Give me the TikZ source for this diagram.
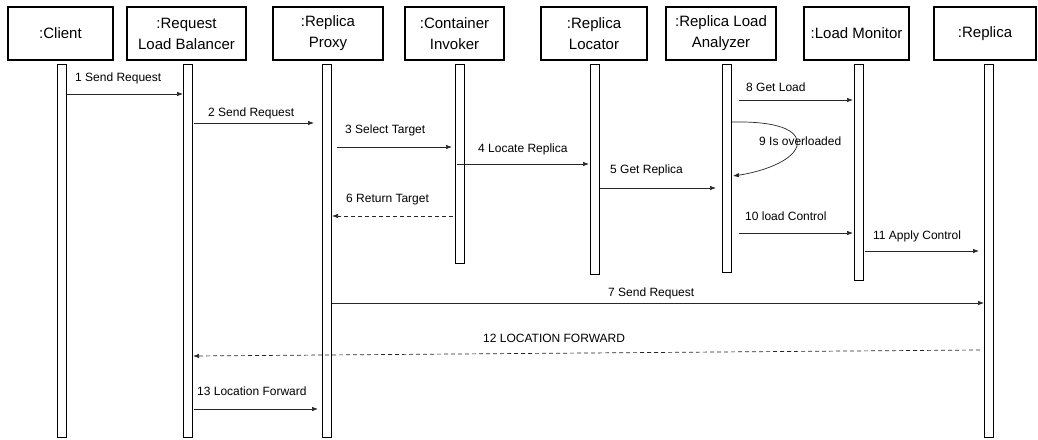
\documentclass[tikz,border=0pt]{standalone}
\usepackage{fontspec}
\setmainfont{Liberation Sans}
\usetikzlibrary{arrows.meta}
\begin{document}
\begin{tikzpicture}[x=1pt,y=-1pt,
 head/.style={draw, line width=1.6pt, minimum height=53pt, inner sep=0pt, align=center, font=\fontsize{15}{21}\selectfont},
 bar/.style={draw, line width=1.3pt, minimum width=9pt, inner sep=0pt, fill=white, anchor=north},
 msg/.style={line width=0.7pt, draw=black!85, -{Latex[length=6pt,width=4.5pt]}},
 ret/.style={msg, dash pattern=on 4pt off 3pt},
 lbl/.style={anchor=west, inner sep=0pt, font=\fontsize{12}{14}\selectfont, text height=9pt, text depth=3pt}]
\useasboundingbox (0,0) rectangle (1038,439);
% headers
\node[head, minimum width=105pt] (h1) at (60.5,33.5) {:Client};
\node[head, minimum width=119pt] (h2) at (186.5,33.5) {:Request\\Load Balancer};
\node[head, minimum width=110pt] (h3) at (328,33.5) {:Replica\\Proxy};
\node[head, minimum width=99pt] (h4) at (454.5,33.5) {:Container\\Invoker};
\node[head, minimum width=106pt] (h5) at (594,33.5) {:Replica\\Locator};
\node[head, minimum width=110pt] (h6) at (721,33.5) {:Replica Load\\Analyzer};
\node[head, minimum width=105pt] (h7) at (856.5,33.5) {:Load Monitor};
\node[head, minimum width=102pt] (h8) at (985,33.5) {:Replica};
% activation bars
\node[bar, minimum height=373pt] (b1) at (62,64) {};
\node[bar, minimum height=373pt] (b2) at (188,64) {};
\node[bar, minimum height=373pt] (b3) at (327,64) {};
\node[bar, minimum height=199pt] (b4) at (460,64) {};
\node[bar, minimum height=210pt] (b5) at (595,64) {};
\node[bar, minimum height=208pt] (b6) at (727,64) {};
\node[bar, minimum height=216pt] (b7) at (859,64) {};
\node[bar, minimum height=373pt] (b8) at (989,64) {};
% message end points
\coordinate (m1a) at (67,94);   \coordinate (m1b) at (183,94);
\coordinate (m2a) at (194,123); \coordinate (m2b) at (314,123);
\coordinate (m3a) at (337,147); \coordinate (m3b) at (452,147);
\coordinate (m4a) at (457,164); \coordinate (m4b) at (589,164);
\coordinate (m5a) at (600,188); \coordinate (m5b) at (716,188);
\coordinate (m6a) at (453,216); \coordinate (m6b) at (332,216);
\coordinate (m7a) at (332,303); \coordinate (m7b) at (984,303);
\coordinate (m8a) at (739,100); \coordinate (m8b) at (853,100);
\coordinate (m9a) at (732,122); \coordinate (m9b) at (733,176);
\coordinate (m10a) at (739,233); \coordinate (m10b) at (853,233);
\coordinate (m11a) at (865,251); \coordinate (m11b) at (979,251);
\coordinate (m12a) at (980,350); \coordinate (m12b) at (193,356);
\coordinate (m13a) at (194,409); \coordinate (m13b) at (318,409);
% messages
\draw[msg] (m1a) -- (m1b);
\draw[msg] (m2a) -- (m2b);
\draw[msg] (m3a) -- (m3b);
\draw[msg] (m4a) -- (m4b);
\draw[msg] (m5a) -- (m5b);
\draw[ret] (m6a) -- (m6b);
\draw[msg] (m7a) -- (m7b);
\draw[msg] (m8a) -- (m8b);
\draw[msg] (m9a) .. controls (785,121) and (800,133) .. (797,146) .. controls (792,162) and (760,172) .. (m9b);
\draw[msg] (m10a) -- (m10b);
\draw[msg] (m11a) -- (m11b);
\draw[ret] (m12a) -- (m12b);
\draw[msg] (m13a) -- (m13b);
% labels
\node[lbl] (l1) at (75,78) {1 Send Request};
\node[lbl] (l2) at (208,113) {2 Send Request};
\node[lbl] (l3) at (345,130) {3 Select Target};
\node[lbl] (l4) at (478,149) {4 Locate Replica};
\node[lbl] (l5) at (610,170) {5 Get Replica};
\node[lbl] (l6) at (346,199) {6 Return Target};
\node[lbl] (l7) at (608,293) {7 Send Request};
\node[lbl] (l8) at (746,88) {8 Get Load};
\node[lbl] (l9) at (759,142) {9 Is overloaded};
\node[lbl] (l10) at (745,217) {10 load Control};
\node[lbl] (l11) at (873,236) {11 Apply Control};
\node[lbl] (l12) at (483,339) {12 LOCATION FORWARD};
\node[lbl] (l13) at (197,392) {13 Location Forward};
\end{tikzpicture}
\end{document}
